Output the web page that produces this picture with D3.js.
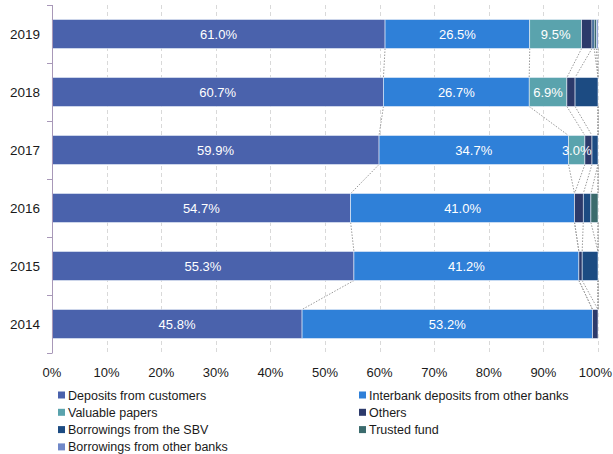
<!DOCTYPE html>
<html>
<head>
<meta charset="utf-8">
<script src="https://cdn.jsdelivr.net/npm/d3@7"></script>
<style>
  html, body { margin: 0; padding: 0; background: #fff; }
  svg { display: block; font-family: "Liberation Sans", Arial, sans-serif; }
</style>
</head>
<body>
<svg id="chart" width="613" height="454"></svg>
<script>
// Funding structure by year (% of total)
const years = ["2019", "2018", "2017", "2016", "2015", "2014"];
const seriesNames = [
  "Deposits from customers",
  "Interbank deposits from other banks",
  "Valuable papers",
  "Others",
  "Borrowings from the SBV",
  "Trusted fund",
  "Borrowings from other banks"
];
const deposits      = [61.0, 60.7, 59.9, 54.7, 55.3, 45.8];
const interbank     = [26.5, 26.7, 34.7, 41.0, 41.2, 53.2];
const valuable      = [9.5, 6.9, 3.0, 0.0, 0.0, 0.0];
const others        = [1.9, 1.5, 1.3, 1.6, 0.6, 1.0];
const sbv           = [0.4, 4.2, 1.1, 1.4, 2.9, 0.0];
const trusted       = [0.4, 0.0, 0.0, 1.3, 0.0, 0.0];
const otherBanks    = [0.3, 0.0, 0.0, 0.0, 0.0, 0.0];
const xTicks = [0, 10, 20, 30, 40, 50, 60, 70, 80, 90, 100];
const colors = ["#4a62ac", "#2f80d8", "#5aa3ad", "#2c3a6b", "#1c4b82", "#3b6b6d", "#7088c8"];

const seriesValues = [deposits, interbank, valuable, others, sbv, trusted, otherBanks];
const rows = years.map((yr, i) => {
  const r = { year: yr };
  seriesNames.forEach((s, k) => r[s] = seriesValues[k][i]);
  return r;
});
const stacked = d3.stack().keys(seriesNames)(rows);

const svg = d3.select("#chart");
const W = 613;
const plotLeft = 52, plotRight = 598, plotTop = 5, plotBottom = 353;

const x = d3.scaleLinear().domain([0, 100]).range([plotLeft, plotRight]);
const y = d3.scaleBand().domain(years).range([plotTop, plotBottom]).paddingInner(0.5).paddingOuter(0.25);

// dashed vertical gridlines
svg.append("g").selectAll("line").data(xTicks.slice(1)).join("line")
  .attr("x1", d => Math.round(x(d)) + 0.5).attr("x2", d => Math.round(x(d)) + 0.5)
  .attr("y1", plotTop).attr("y2", plotBottom)
  .attr("stroke", "#d9d9d9").attr("stroke-width", 1).attr("stroke-dasharray", "4,3");

// series connector lines between adjacent bars
const conn = svg.append("g");
stacked.forEach(layer => {
  for (let i = 0; i < years.length - 1; i++) {
    conn.append("line")
      .attr("x1", x(layer[i][1])).attr("y1", y(years[i]) + y.bandwidth())
      .attr("x2", x(layer[i + 1][1])).attr("y2", y(years[i + 1]))
      .attr("stroke", "#9a9a9a").attr("stroke-width", 1).attr("stroke-dasharray", "1.5,1.5");
  }
});

// stacked bars
const bars = svg.append("g");
stacked.forEach((layer, k) => {
  bars.append("g").selectAll("rect").data(layer.filter(d => d[1] > d[0])).join("rect")
    .attr("x", d => x(d[0]))
    .attr("y", d => y(d.data.year))
    .attr("width", d => x(d[1]) - x(d[0]))
    .attr("height", y.bandwidth())
    .attr("fill", colors[k])
    .attr("stroke", "#e8eef8").attr("stroke-width", 0.6);
});

// value labels
const labels = svg.append("g").attr("font-size", "13px").attr("fill", "#fff").attr("text-anchor", "middle");
stacked.slice(0, 3).forEach(layer => {
  labels.append("g").selectAll("text").data(layer.filter(d => d[1] - d[0] >= 2.5)).join("text")
    .attr("x", d => x((d[0] + d[1]) / 2))
    .attr("y", d => y(d.data.year) + y.bandwidth() / 2)
    .attr("dy", "0.36em")
    .text(d => (d[1] - d[0]).toFixed(1) + "%");
});

// y axis
const yAxis = svg.append("g");
yAxis.append("line").attr("x1", plotLeft + 0.5).attr("x2", plotLeft + 0.5).attr("y1", plotTop).attr("y2", plotBottom)
  .attr("stroke", "#a898b8").attr("stroke-width", 1);
const bounds = d3.range(years.length + 1).map(i => plotTop + i * y.step());
yAxis.selectAll("line.tk").data(bounds).join("line").attr("class", "tk")
  .attr("x1", plotLeft - 5).attr("x2", plotLeft + 0.5)
  .attr("y1", d => Math.round(d) + 0.5).attr("y2", d => Math.round(d) + 0.5)
  .attr("stroke", "#a898b8").attr("stroke-width", 1);
yAxis.selectAll("text").data(years).join("text")
  .attr("x", 40).attr("y", d => y(d) + y.bandwidth() / 2).attr("dy", "0.36em")
  .attr("text-anchor", "end").attr("font-size", "13.5px").attr("fill", "#1a1a1a")
  .text(d => d);

// x tick labels (kept inside the right edge)
svg.append("g").selectAll("text").data(xTicks).join("text")
  .attr("y", 372).attr("dy", "0.36em")
  .attr("text-anchor", "middle").attr("font-size", "13px").attr("fill", "#1a1a1a")
  .text(d => d + "%")
  .attr("x", function(d) {
    const half = this.getComputedTextLength() / 2;
    return Math.min(x(d), W - 1 - half);
  });

// legend
const legend = svg.append("g").attr("font-size", "12.5px").attr("fill", "#1a1a1a");
const legendPos = seriesNames.map((s, k) => ({
  name: s, color: colors[k],
  lx: k % 2 === 0 ? 58 : 359,
  ly: 395 + Math.floor(k / 2) * 17.3
}));
legend.selectAll("rect").data(legendPos).join("rect")
  .attr("x", d => d.lx).attr("y", d => d.ly - 3.5).attr("width", 7).attr("height", 7)
  .attr("fill", d => d.color);
legend.selectAll("text").data(legendPos).join("text")
  .attr("x", d => d.lx + 10).attr("y", d => d.ly).attr("dy", "0.36em")
  .text(d => d.name);
</script>
</body>
</html>
